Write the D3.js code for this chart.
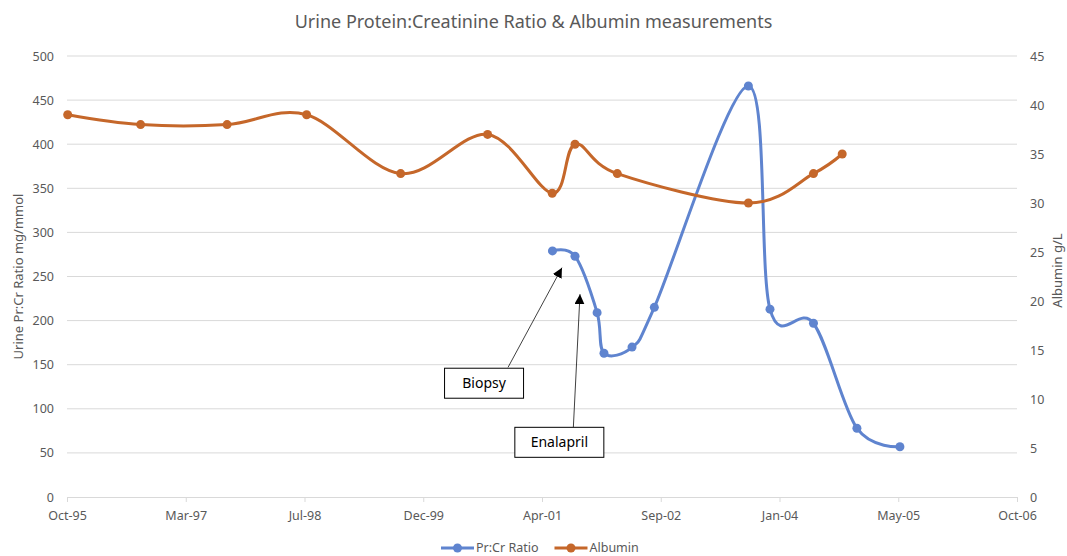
<!DOCTYPE html>
<html>
<head>
<meta charset="utf-8">
<script src="https://cdn.jsdelivr.net/npm/d3@7"></script>
<style>
  body { margin: 0; background: #fff; }
  text { font-family: 'Noto Sans', 'Open Sans', sans-serif; }
</style>
</head>
<body>
<div id="chart"></div>
<script>
const albuminDates = ['1995-10-31', '1996-09-02', '1997-09-01', '1998-08-02', '1999-09-02', '2000-09-02',
  '2001-06-01', '2001-09-05', '2002-03-02', '2003-09-05', '2004-06-05', '2004-10-04'];
const albuminValues = [39, 38, 38, 39, 33, 37, 31, 36, 33, 30, 33, 35];

const ratioDates = ['2001-06-02', '2001-09-05', '2001-12-07', '2002-01-05', '2002-05-03', '2002-08-05',
  '2003-09-05', '2003-12-05', '2004-06-05', '2004-12-05', '2005-06-04'];
const ratioValues = [279, 273, 209, 163, 170, 215, 466, 213, 197, 78, 57];

const xTickDates = ['1995-10-28', '1997-03-11', '1998-07-24', '1999-12-06', '2001-04-19',
  '2002-09-01', '2004-01-14', '2005-05-28', '2006-10-10'];
const leftTicks = [0, 50, 100, 150, 200, 250, 300, 350, 400, 450, 500];
const rightTicks = [0, 5, 10, 15, 20, 25, 30, 35, 40, 45];

const noteLabels = ['Biopsy', 'Enalapril'];
const noteTipDates = ['2001-07-12', '2001-09-26'];
const noteTipValues = [260, 230];
const noteTailDates = ['2000-11-27', '2001-08-29'];
const noteTailValues = [147, 79];
const noteBoxDates = ['2000-08-18', '2001-07-01'];
const noteBoxValues = [129, 62];

const parse = d3.timeParse('%Y-%m-%d');

const dimensions = {
  width: 1067,
  height: 556,
  margin: { top: 56, bottom: 59, left: 67, right: 50 },
};
dimensions.containerWidth = dimensions.width - dimensions.margin.left - dimensions.margin.right;
dimensions.containerHeight = dimensions.height - dimensions.margin.top - dimensions.margin.bottom;

const blue = '#5f84cf';
const orange = '#c5672a';
const textColor = '#595959';

const svg = d3.select('#chart').append('svg').attr('width', dimensions.width).attr('height', dimensions.height);
const container = svg.append('g').attr('transform', `translate(${dimensions.margin.left}, ${dimensions.margin.top})`);

const xScale = d3.scaleTime()
  .domain([parse(xTickDates[0]), parse(xTickDates[xTickDates.length - 1])])
  .range([0, dimensions.containerWidth]);
const yLeft = d3.scaleLinear().domain([0, 500]).range([dimensions.containerHeight, 0]);
const yRight = d3.scaleLinear().domain([0, 45]).range([dimensions.containerHeight, 0]);

// gridlines
container.append('g')
  .selectAll('line')
  .data(leftTicks.slice(1))
  .join('line')
  .attr('x1', 0)
  .attr('x2', dimensions.containerWidth)
  .attr('y1', (d) => yLeft(d))
  .attr('y2', (d) => yLeft(d))
  .attr('stroke', '#d9d9d9')
  .attr('stroke-width', 1);

// x axis
const xAxis = d3.axisBottom(xScale)
  .tickValues(xTickDates.map(parse))
  .tickFormat(d3.timeFormat('%b-%y'))
  .tickSizeOuter(0)
  .tickSize(5)
  .tickPadding(9);
const xAxisGroup = container.append('g')
  .attr('transform', `translate(0, ${dimensions.containerHeight})`)
  .call(xAxis);
xAxisGroup.select('.domain').attr('stroke', '#d9d9d9');
xAxisGroup.selectAll('.tick line').attr('stroke', '#d9d9d9');
xAxisGroup.selectAll('.tick text').attr('fill', textColor).style('font-size', '12.5px');

// left axis
const leftAxisGroup = container.append('g')
  .call(d3.axisLeft(yLeft).tickValues(leftTicks).tickSize(0).tickPadding(13));
leftAxisGroup.select('.domain').remove();
leftAxisGroup.selectAll('.tick text').attr('fill', textColor).style('font-size', '12.5px');

// right axis
const rightAxisGroup = container.append('g')
  .attr('transform', `translate(${dimensions.containerWidth}, 0)`)
  .call(d3.axisRight(yRight).tickValues(rightTicks).tickSize(0).tickPadding(13));
rightAxisGroup.select('.domain').remove();
rightAxisGroup.selectAll('.tick text').attr('fill', textColor).style('font-size', '12.5px');

// axis titles
container.append('text')
  .attr('transform', `translate(${-44}, ${dimensions.containerHeight / 2}) rotate(-90)`)
  .attr('text-anchor', 'middle')
  .attr('fill', textColor)
  .style('font-size', '13px')
  .text('Urine Pr:Cr Ratio mg/mmol');

container.append('text')
  .attr('transform', `translate(${dimensions.containerWidth + 45}, ${dimensions.containerHeight / 2 - 6}) rotate(-90)`)
  .attr('text-anchor', 'middle')
  .attr('fill', textColor)
  .style('font-size', '13px')
  .text('Albumin g/L');

// title
svg.append('text')
  .attr('x', dimensions.width / 2)
  .attr('y', 28)
  .attr('text-anchor', 'middle')
  .attr('fill', textColor)
  .style('font-size', '18px')
  .text('Urine Protein:Creatinine Ratio & Albumin measurements');

// series
const albuminData = albuminDates.map((d, i) => ({ date: parse(d), value: albuminValues[i] }));
const ratioData = ratioDates.map((d, i) => ({ date: parse(d), value: ratioValues[i] }));

const series = [
  { data: ratioData, y: yLeft, color: blue },
  { data: albuminData, y: yRight, color: orange },
];

series.forEach((s) => {
  const line = d3.line()
    .x((d) => xScale(d.date))
    .y((d) => s.y(d.value))
    .curve(d3.curveCardinal.tension(0));

  container.append('path')
    .datum(s.data)
    .attr('d', line)
    .attr('fill', 'none')
    .attr('stroke', s.color)
    .attr('stroke-width', 3)
    .attr('stroke-linejoin', 'round');

  container.append('g')
    .selectAll('circle')
    .data(s.data)
    .join('circle')
    .attr('cx', (d) => xScale(d.date))
    .attr('cy', (d) => s.y(d.value))
    .attr('r', 4.5)
    .attr('fill', s.color);
});

// annotations
svg.append('defs').append('marker')
  .attr('id', 'arrow')
  .attr('viewBox', '0 0 10 10')
  .attr('refX', 10)
  .attr('refY', 5)
  .attr('markerWidth', 10)
  .attr('markerHeight', 10)
  .attr('markerUnits', 'userSpaceOnUse')
  .attr('orient', 'auto')
  .append('path')
  .attr('d', 'M0,0 L10,5 L0,10 Z')
  .attr('fill', '#000');

noteLabels.forEach((label, i) => {
  container.append('line')
    .attr('x1', xScale(parse(noteTailDates[i])))
    .attr('y1', yLeft(noteTailValues[i]))
    .attr('x2', xScale(parse(noteTipDates[i])))
    .attr('y2', yLeft(noteTipValues[i]))
    .attr('stroke', '#000')
    .attr('stroke-width', 0.75)
    .attr('marker-end', 'url(#arrow)');

  const cx = xScale(parse(noteBoxDates[i]));
  const cy = yLeft(noteBoxValues[i]);
  const g = container.append('g').attr('transform', `translate(${cx}, ${cy})`);
  g.append('text')
    .attr('text-anchor', 'middle')
    .attr('dy', '0.35em')
    .attr('fill', '#000')
    .style('font-size', '14px')
    .text(label);
  const w = label === 'Biopsy' ? 79 : 89;
  g.insert('rect', 'text')
    .attr('x', -w / 2)
    .attr('y', -15)
    .attr('width', w)
    .attr('height', 30)
    .attr('fill', '#fff')
    .attr('stroke', '#000')
    .attr('stroke-width', 1);
});

// legend
const legendItems = [
  { label: 'Pr:Cr Ratio', color: blue },
  { label: 'Albumin', color: orange },
];
const legend = svg.append('g').attr('transform', 'translate(441, 548)');
let legendX = 0;
legendItems.forEach((item) => {
  const g = legend.append('g').attr('transform', `translate(${legendX}, 0)`);
  g.append('line').attr('x1', 0).attr('x2', 33).attr('stroke', item.color).attr('stroke-width', 3);
  g.append('circle').attr('cx', 16.5).attr('r', 4.5).attr('fill', item.color);
  const t = g.append('text')
    .attr('x', 35)
    .attr('dy', '0.35em')
    .attr('fill', textColor)
    .style('font-size', '12.5px')
    .text(item.label);
  legendX += 35 + t.node().getComputedTextLength() + 16;
});
</script>
</body>
</html>
